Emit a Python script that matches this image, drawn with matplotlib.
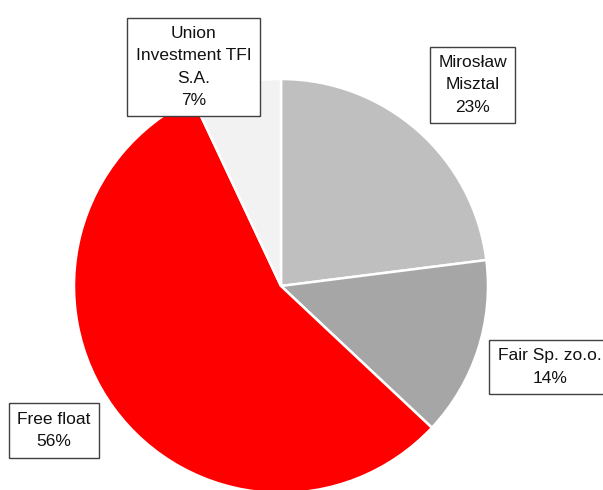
import matplotlib
matplotlib.use("Agg")
import matplotlib.pyplot as plt

labels = ["Mirosław\nMisztal", "Fair Sp. zo.o.", "Free float", "Union\nInvestment TFI\nS.A."]
shares = [23, 14, 56, 7]
colors = ["#BFBFBF", "#A6A6A6", "#FF0000", "#F2F2F2"]
# label box centres in pixel coordinates (x from left, y from top)
label_pos = [(472.5, 85), (550, 367), (54, 430.5), (193.5, 67)]

plt.rcParams['font.family'] = ['Liberation Sans', 'DejaVu Sans']

W, H = 603, 490
fig = plt.figure(figsize=(W / 100, H / 100), dpi=100)
ax = fig.add_axes([0, 0, 1, 1])
ax.pie(shares, colors=colors, startangle=90, counterclock=False,
       center=(281, H - 286), radius=207,
       wedgeprops=dict(edgecolor="white", linewidth=1.8))
ax.set_xlim(0, W)
ax.set_ylim(0, H)
ax.set_aspect("equal")
ax.axis("off")

for lab, val, (px, py) in zip(labels, shares, label_pos):
    ax.text(px, H - py, f"{lab}\n{val}%", ha="center", va="center",
            multialignment="center", fontsize=12.5, color="#111111",
            linespacing=1.6,
            bbox=dict(boxstyle="square,pad=0.5", facecolor="white",
                      edgecolor="#404040", linewidth=1.0))

fig.savefig("out.png", dpi=100)
